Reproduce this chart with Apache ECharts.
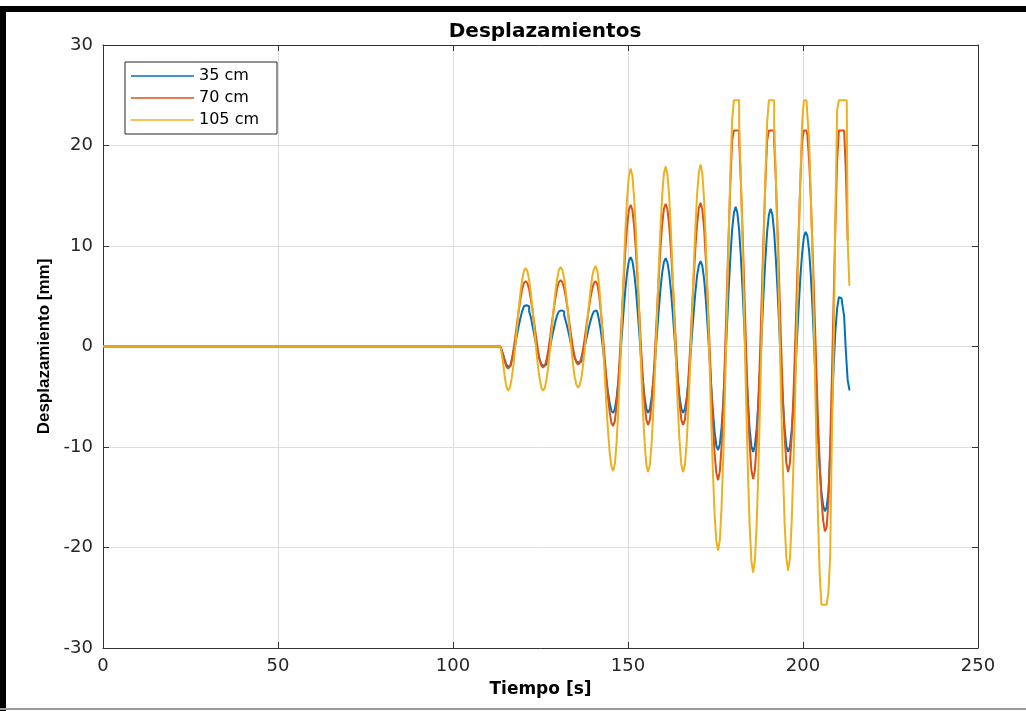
<!DOCTYPE html>
<html>
<head>
<meta charset="utf-8">
<script src="https://cdn.jsdelivr.net/npm/echarts@6/dist/echarts.min.js"></script>
<style>
html,body{margin:0;padding:0;background:#fff;}
#chart{width:1026px;height:711px;}
</style>
</head>
<body>
<div id="chart"></div>
<script>
// ---- data ----
const seriesNames = ['35 cm', '70 cm', '105 cm'];
const xTicks = [0, 50, 100, 150, 200, 250];
const yTicks = [-30, -20, -10, 0, 10, 20, 30];

// time samples [s]
const time = [0,
113.5,114,114.5,115,115.5,116,116.5,117,117.5,118,118.5,119,119.5,120,120.5,121,121.5,122,122.5,123,
123.5,124,124.5,125,125.5,126,126.5,127,127.5,128,128.5,129,129.5,130,130.5,131,131.5,132,132.5,133,
133.5,134,134.5,135,135.5,136,136.5,137,137.5,138,138.5,139,139.5,140,140.5,141,141.5,142,142.5,143,
143.5,144,144.5,145,145.5,146,146.5,147,147.5,148,148.5,149,149.5,150,150.5,151,151.5,152,152.5,153,
153.5,154,154.5,155,155.5,156,156.5,157,157.5,158,158.5,159,159.5,160,160.5,161,161.5,162,162.5,163,
163.5,164,164.5,165,165.5,166,166.5,167,167.5,168,168.5,169,169.5,170,170.5,171,171.5,172,172.5,173,
173.5,174,174.5,175,175.5,176,176.5,177,177.5,178,178.5,179,179.5,180,180.5,181,181.5,182,182.5,183,
183.5,184,184.5,185,185.5,186,186.5,187,187.5,188,188.5,189,189.5,190,190.5,191,191.5,192,192.5,193,
193.5,194,194.5,195,195.5,196,196.5,197,197.5,198,198.5,199,199.5,200,200.5,201,201.5,202,202.5,203,
203.5,204,204.5,205,205.5,206,206.5,207,207.5,208,208.5,209,209.5,210,210.5,211,211.5,212,212.5,213,
213.5];

// displacement 35 cm [mm]
const disp35 = [0,
0,-0.2,-0.7,-1.3,-1.8,-2.0,
-1.9,-1.4,-0.7,0.1,1.1,2.0,2.8,3.5,4.0,4.1,
4.0,3.5,2.9,2.0,1.1,0.2,-0.7,-1.3,-1.8,-1.9,
-1.8,-1.4,-0.8,0.0,0.9,1.7,2.5,3.1,3.5,3.6,
3.5,3.1,2.5,1.8,1.0,0.2,-0.5,-1.1,-1.5,-1.6,
-1.5,-1.1,-0.5,0.2,1.0,1.8,2.5,3.1,3.5,3.6,
3.4,2.6,1.5,0.1,-1.5,-3.1,-4.5,-5.6,-6.4,-6.6,
-6.2,-5.1,-3.4,-1.3,1.2,3.6,5.7,7.4,8.5,8.9,
8.5,7.4,5.7,3.6,1.2,-1.3,-3.4,-5.1,-6.2,-6.6,
-6.2,-5.1,-3.4,-1.3,1.1,3.5,5.6,7.3,8.4,8.8,
8.4,7.3,5.6,3.5,1.1,-1.3,-3.4,-5.1,-6.2,-6.6,
-6.2,-5.2,-3.5,-1.4,1.0,3.3,5.4,7.1,8.1,8.5,
8.0,6.7,4.6,2.0,-0.9,-3.8,-6.4,-8.5,-9.9,-10.3,
-9.7,-8.0,-5.3,-2.0,1.8,5.6,8.9,11.6,13.3,13.9,
13.3,11.6,8.9,5.5,1.7,-2.1,-5.5,-8.2,-9.9,-10.5,
-9.9,-8.2,-5.5,-2.2,1.6,5.4,8.7,11.4,13.1,13.7,
13.1,11.4,8.7,5.4,1.6,-2.2,-5.5,-8.2,-9.9,-10.5,
-10.0,-8.4,-6.0,-2.9,0.5,3.8,6.9,9.3,10.9,11.4,
11.0,9.5,7.0,3.5,-0.5,-4.5,-8.5,-12.0,-14.5,-15.8,
-16.4,-16.0,-14.5,-11.0,-6.5,-2.0,1.5,3.8,4.9,4.8,
4.2,3.0,-0.5,-3.3,-4.3];

// displacement 70 cm [mm]
const disp70 = [0,
0,-0.2,-0.8,-1.4,-2.0,-2.2,
-2.0,-1.4,-0.4,0.8,2.2,3.5,4.7,5.7,6.3,6.5,
6.3,5.7,4.7,3.5,2.2,0.9,-0.3,-1.3,-1.9,-2.1,
-1.9,-1.3,-0.3,0.9,2.3,3.6,4.8,5.8,6.4,6.6,
6.4,5.8,4.9,3.7,2.4,1.1,-0.1,-1.0,-1.6,-1.8,
-1.6,-1.0,-0.1,1.1,2.4,3.6,4.8,5.7,6.3,6.5,
6.2,5.1,3.5,1.5,-0.7,-2.9,-4.9,-6.5,-7.6,-7.9,
-7.4,-5.8,-3.4,-0.3,3.1,6.5,9.6,12.0,13.6,14.1,
13.6,12.0,9.6,6.5,3.2,-0.2,-3.3,-5.7,-7.3,-7.8,
-7.3,-5.7,-3.3,-0.2,3.2,6.6,9.7,12.1,13.7,14.2,
13.7,12.1,9.7,6.6,3.2,-0.2,-3.3,-5.7,-7.3,-7.8,
-7.3,-5.7,-3.3,-0.2,3.3,6.7,9.8,12.2,13.8,14.3,
13.6,11.7,8.6,4.8,0.5,-3.8,-7.6,-10.7,-12.6,-13.3,
-12.4,-9.8,-5.6,-0.4,5.4,11.1,16.3,20.5,21.5,21.5,
21.5,20.5,16.3,11.2,5.4,-0.4,-5.5,-9.7,-12.3,-13.2,
-12.3,-9.7,-5.5,-0.4,5.4,11.2,16.3,20.5,21.5,21.5,
21.5,20.5,16.5,11.4,5.8,0.1,-5.0,-9.0,-11.6,-12.5,
-11.6,-9.0,-5.0,0.1,5.8,11.4,16.5,20.5,21.5,21.5,
21.0,18.5,14.5,9.5,4.0,-1.5,-7.0,-11.5,-15.0,-17.3,
-18.4,-18.0,-15.5,-10.0,-3.0,4.5,12.0,18.5,21.5,21.5,
21.5,21.5,17.4,10.6];

// displacement 105 cm [mm]
const disp105 = [0,
0,-0.4,-1.5,-2.9,-4.0,-4.4,
-4.1,-3.2,-1.9,-0.2,1.7,3.6,5.3,6.6,7.5,7.8,
7.5,6.6,5.3,3.6,1.7,-0.2,-1.9,-3.2,-4.1,-4.4,
-4.1,-3.2,-1.9,-0.2,1.8,3.7,5.4,6.7,7.6,7.9,
7.6,6.8,5.4,3.8,1.9,0.0,-1.6,-3.0,-3.8,-4.1,
-3.8,-3.0,-1.6,0.1,2.0,3.8,5.5,6.9,7.7,8.0,
7.5,6.1,3.8,1.0,-2.2,-5.4,-8.2,-10.5,-11.9,-12.4,
-11.7,-9.5,-6.2,-2.0,2.7,7.3,11.5,14.8,17.0,17.7,
17.0,14.8,11.5,7.3,2.6,-2.1,-6.3,-9.6,-11.8,-12.5,
-11.8,-9.6,-6.2,-2.0,2.7,7.4,11.6,15.0,17.2,17.9,
17.2,15.0,11.6,7.4,2.7,-2.0,-6.2,-9.6,-11.8,-12.5,
-11.8,-9.6,-6.2,-1.9,2.8,7.5,11.8,15.2,17.4,18.1,
17.2,14.5,10.2,4.9,-1.1,-7.1,-12.4,-16.7,-19.4,-20.3,
-19.2,-15.8,-10.6,-4.0,3.4,10.7,17.3,22.5,24.5,24.5,
24.5,22.3,16.8,9.9,2.3,-5.4,-12.3,-17.8,-21.3,-22.5,
-21.3,-17.8,-12.3,-5.4,2.3,9.9,16.8,22.3,24.5,24.5,
24.5,22.3,16.8,10.0,2.4,-5.3,-12.1,-17.6,-21.1,-22.3,
-21.1,-17.6,-12.1,-5.3,2.4,10.0,16.8,22.3,24.5,24.5,
23.0,20.5,15.0,8.0,0.0,-8.5,-16.5,-22.5,-25.7,-25.7,
-25.7,-25.7,-24.5,-21.0,-9.0,0.0,13.0,23.5,24.5,24.5,
24.5,24.5,24.5,10.6,6.1];

const colors = ['#0072BD', '#D95319', '#EDB120'];

// ---- chart ----
function pairs(vals) {
  return vals.map((v, i) => [time[i], v]);
}
const allSeries = [disp35, disp70, disp105];

const chart = echarts.init(document.getElementById('chart'), null, {renderer: 'canvas'});
const axisColor = '#333333';
const tickFont = {fontFamily: 'DejaVu Sans', fontSize: 18, color: '#262626'};

const option = {
  animation: false,
  backgroundColor: '#ffffff',
  title: {
    text: 'Desplazamientos',
    left: 540,
    textAlign: 'center',
    top: 17,
    textStyle: {fontFamily: 'DejaVu Sans', fontWeight: 'bold', fontSize: 20, color: '#000'}
  },
  legend: {
    orient: 'vertical',
    left: 125,
    top: 62,
    data: seriesNames.map(n => ({name: n, icon: 'rect'})),
    padding: [6, 18, 6, 6],
    itemGap: 6,
    itemWidth: 63,
    itemHeight: 1.6,
    backgroundColor: '#ffffff',
    borderColor: '#262626',
    borderWidth: 1,
    borderRadius: 0,
    textStyle: {fontFamily: 'DejaVu Sans', fontSize: 16, color: '#000'}
  },
  grid: {left: 103, right: 48, top: 45, bottom: 63, containLabel: false},
  xAxis: [{
    type: 'value',
    min: xTicks[0], max: xTicks[xTicks.length - 1], interval: 50,
    position: 'bottom',
    name: 'Tiempo [s]',
    nameLocation: 'middle',
    nameGap: 33,
    nameTextStyle: {fontFamily: 'DejaVu Sans', fontWeight: 'bold', fontSize: 17, color: '#000'},
    axisLine: {show: true, onZero: false, lineStyle: {color: axisColor, width: 1}},
    axisTick: {show: true, inside: true, length: 6, lineStyle: {color: axisColor}},
    axisLabel: Object.assign({margin: 9}, tickFont),
    splitLine: {show: true, lineStyle: {color: '#dedede', width: 1}}
  }, {
    type: 'value',
    min: xTicks[0], max: xTicks[xTicks.length - 1], interval: 50,
    position: 'top',
    axisLine: {show: true, onZero: false, lineStyle: {color: axisColor, width: 1}},
    axisTick: {show: true, inside: true, length: 6, lineStyle: {color: axisColor}},
    axisLabel: {show: false},
    splitLine: {show: false}
  }],
  yAxis: [{
    type: 'value',
    min: yTicks[0], max: yTicks[yTicks.length - 1], interval: 10,
    position: 'left',
    name: 'Desplazamiento [mm]',
    nameLocation: 'middle',
    nameGap: 46,
    nameTextStyle: {fontFamily: 'Liberation Sans', fontWeight: 'bold', fontSize: 17, color: '#000'},
    axisLine: {show: true, onZero: false, lineStyle: {color: axisColor, width: 1}},
    axisTick: {show: true, inside: true, length: 6, lineStyle: {color: axisColor}},
    axisLabel: Object.assign({margin: 10}, tickFont),
    splitLine: {show: true, lineStyle: {color: '#dedede', width: 1}}
  }, {
    type: 'value',
    min: yTicks[0], max: yTicks[yTicks.length - 1], interval: 10,
    position: 'right',
    axisLine: {show: true, onZero: false, lineStyle: {color: axisColor, width: 1}},
    axisTick: {show: true, inside: true, length: 6, lineStyle: {color: axisColor}},
    axisLabel: {show: false},
    splitLine: {show: false}
  }],
  series: allSeries.map((vals, k) => ({
    name: seriesNames[k],
    type: 'line',
    xAxisIndex: 0,
    yAxisIndex: 0,
    step: 'middle',
    symbol: 'none',
    showSymbol: false,
    clip: true,
    z: 2 + k,
    lineStyle: {color: colors[k], width: 2},
    itemStyle: {color: colors[k]},
    data: pairs(vals)
  })),
  graphic: [
    {type: 'rect', left: 0, top: 6, shape: {width: 1026, height: 6}, style: {fill: '#000'}, silent: true, z: 100},
    {type: 'rect', left: 0, top: 6, shape: {width: 6, height: 705}, style: {fill: '#000'}, silent: true, z: 100},
    {type: 'rect', left: 0, top: 708, shape: {width: 1026, height: 2}, style: {fill: '#9a9a9a'}, silent: true, z: 100}
  ]
};
chart.setOption(option);
</script>
</body>
</html>
